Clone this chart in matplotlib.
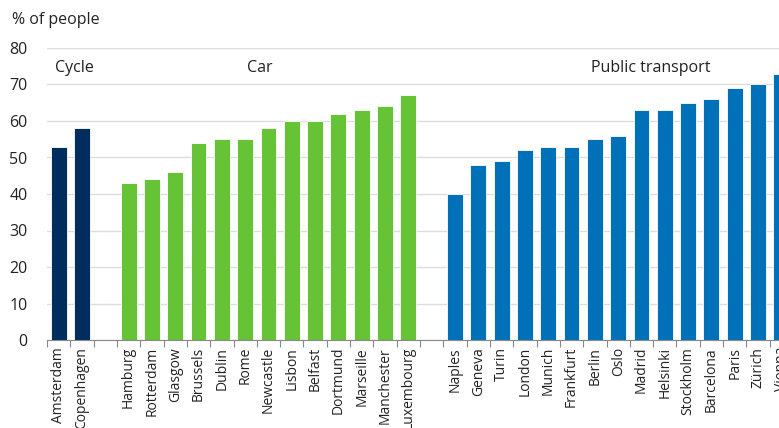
import numpy as np
import matplotlib
matplotlib.use("Agg")
import matplotlib.pyplot as plt

plt.rcParams["font.family"] = ["Open Sans", "DejaVu Sans"]

cycle_cities = ["Amsterdam", "Copenhagen"]
cycle_values = [53, 58]
car_cities = ["Hamburg", "Rotterdam", "Glasgow", "Brussels", "Dublin", "Rome", "Newcastle",
              "Lisbon", "Belfast", "Dortmund", "Marseille", "Manchester", "Luxembourg"]
car_values = [43, 44, 46, 54, 55, 55, 58, 60, 60, 62, 63, 64, 67]
pt_cities = ["Naples", "Geneva", "Turin", "London", "Munich", "Frankfurt", "Berlin", "Oslo",
             "Madrid", "Helsinki", "Stockholm", "Barcelona", "Paris", "Zürich", "Vienna"]
pt_values = [40, 48, 49, 52, 53, 53, 55, 56, 63, 63, 65, 66, 69, 70, 73]

groups = [("Cycle", cycle_cities, cycle_values, "#002d5e"),
          ("Car", car_cities, car_values, "#66c335"),
          ("Public transport", pt_cities, pt_values, "#0071b8")]
group_label_x = [0.68, 8.64, 25.4]

fig = plt.figure(figsize=(7.79, 4.28), dpi=100)
# axes runs past the right edge, as in the reference (Vienna is cut off)
ax = fig.add_axes([47 / 779, (428 - 340) / 428, 746 / 779, 292 / 428])

centers = []
tick_labels = []
pos = 0
for (name, cities, values, color), lx in zip(groups, group_label_x):
    x = np.arange(pos, pos + len(cities))
    ax.bar(x, values, width=0.68, color=color, edgecolor="white", linewidth=0.6, zorder=3)
    ax.text(lx, 74.5, name, ha="center", va="center", fontsize=11.5, color="#222222")
    centers += list(x)
    tick_labels += cities
    pos += len(cities) + 1

n_slots = pos - 1

ax.set_xlim(-0.5, n_slots - 0.5)
ax.set_ylim(0, 80)
ax.set_xticks(centers)
ax.set_xticklabels(tick_labels, rotation=90, fontsize=10, color="#222222")
ax.set_xticks(np.arange(-0.5, n_slots, 1), minor=True)
ax.tick_params(axis="x", which="major", length=0, pad=5)
ax.tick_params(axis="x", which="minor", length=5, color="#888888", width=0.8)
ax.set_yticks(np.arange(0, 81, 10))
ax.tick_params(axis="y", length=0, labelsize=11.5, labelcolor="#222222", pad=14)
ax.grid(axis="y", color="#dddddd", linewidth=1, zorder=0)
for s in ["top", "right", "left"]:
    ax.spines[s].set_visible(False)
ax.spines["bottom"].set_color("#888888")
ax.spines["bottom"].set_linewidth(0.8)
ax.spines["bottom"].set_zorder(4)

fig.text(12 / 779, 1 - 20 / 428, "% of people", fontsize=11.5, color="#222222", va="center")

fig.savefig("out.png", dpi=100)
